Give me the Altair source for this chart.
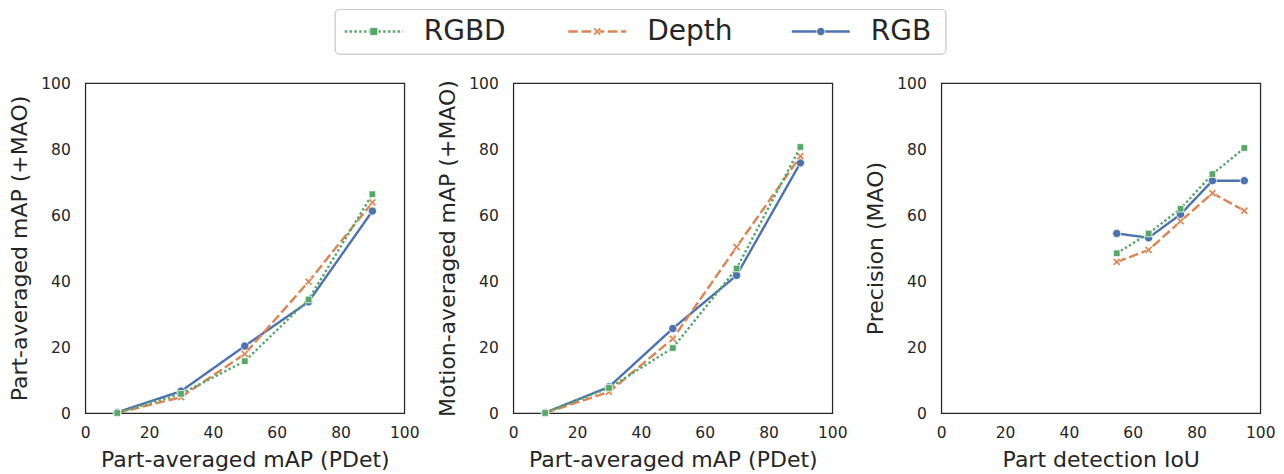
import altair as alt
import pandas as pd

# ---- data -------------------------------------------------------------
series = ["RGB", "Depth", "RGBD"]          # drawing order (RGBD on top)
legend_order = ["RGBD", "Depth", "RGB"]    # legend order
legend_index = [0, 1, 2]

x_pdet = [10, 30, 50, 70, 90]
x_iou = [55, 65, 75, 85, 95]

p1_rgb = [0.2, 6.6, 20.3, 33.7, 61.2]
p1_depth = [0.0, 4.8, 17.9, 39.8, 63.8]
p1_rgbd = [0.0, 5.8, 15.7, 34.4, 66.3]

p2_rgb = [0.1, 7.9, 25.6, 41.7, 75.8]
p2_depth = [0.0, 6.4, 22.5, 50.3, 77.8]
p2_rgbd = [0.0, 7.6, 19.7, 43.8, 80.6]

p3_rgb = [54.4, 53.1, 60.2, 70.4, 70.4]
p3_depth = [45.8, 49.4, 58.1, 66.6, 61.3]
p3_rgbd = [48.4, 54.4, 61.9, 72.4, 80.3]

tick_values = [0, 20, 40, 60, 80, 100]

x_titles = ["Part-averaged mAP (PDet)", "Part-averaged mAP (PDet)", "Part detection IoU"]
y_titles = ["Part-averaged mAP (+MAO)", "Motion-averaged mAP (+MAO)", "Precision (MAO)"]

# ---- styles -----------------------------------------------------------
FONT = "DejaVu Sans"
TXT = "#262626"
XPATH = "M-1,-0.6L-0.6,-1L0,-0.4L0.6,-1L1,-0.6L0.4,0L1,0.6L0.6,1L0,0.4L-0.6,1L-1,0.6L-0.4,0Z"
colors = {"RGB": "#4C72B0", "Depth": "#DD8452", "RGBD": "#55A868"}
dashes = {"RGB": [1, 0], "Depth": [9.6, 3.6], "RGBD": [2.4, 2.4]}
shapes = {"RGB": "circle", "Depth": XPATH, "RGBD": "square"}
sizes = {"RGB": 68, "Depth": 62, "RGBD": 44}
LW = 2.4


def panel(xs, vals, xtitle, ytitle):
    rows = []
    for s in series:
        for xv, yv in zip(xs, vals[s]):
            rows.append({"x": xv, "y": yv, "series": s})
    df = pd.DataFrame(rows)
    xenc = alt.X("x:Q", scale=alt.Scale(domain=[0, 100], nice=False),
                 axis=alt.Axis(values=tick_values, title=xtitle))
    yenc = alt.Y("y:Q", scale=alt.Scale(domain=[0, 100], nice=False),
                 axis=alt.Axis(values=tick_values, title=ytitle))
    layers = []
    for s in series:
        base = alt.Chart().transform_filter(alt.datum.series == s)
        layers.append(base.mark_line(color=colors[s], strokeDash=dashes[s],
                                     strokeWidth=LW).encode(x=xenc, y=yenc))
        layers.append(base.mark_point(shape=shapes[s], size=sizes[s], filled=True,
                                      color=colors[s], stroke="white",
                                      strokeWidth=0.75, opacity=1).encode(x=xenc, y=yenc))
    return alt.layer(*layers, data=df).properties(
        width=319, height=330,
        view=alt.ViewBackground(stroke=TXT, strokeWidth=1.25))


p1 = panel(x_pdet, {"RGB": p1_rgb, "Depth": p1_depth, "RGBD": p1_rgbd}, x_titles[0], y_titles[0])
p2 = panel(x_pdet, {"RGB": p2_rgb, "Depth": p2_depth, "RGBD": p2_rgbd}, x_titles[1], y_titles[1])
p3 = panel(x_iou, {"RGB": p3_rgb, "Depth": p3_depth, "RGBD": p3_rgbd}, x_titles[2], y_titles[2])

# ---- legend -----------------------------------------------------------
leg_df = pd.DataFrame({"series": legend_order, "idx": legend_index})
LEG_W = 691
BOX_W = 611
LEG_H = 45
lx = alt.X("idx:Q", scale=alt.Scale(domain=[-0.1745, 2.9172], nice=False, zero=False), axis=None)
c_enc = alt.Color("series:N", scale=alt.Scale(domain=series, range=[colors[s] for s in series]), legend=None)
ly = alt.value(LEG_H / 2)

leg_box = alt.Chart().mark_rect(fill="white", stroke="#cccccc", strokeWidth=1, cornerRadius=4).encode(
    x=alt.value(0.5), x2=alt.value(BOX_W), y=alt.value(0.5), y2=alt.value(LEG_H))
leg_rule = alt.Chart().mark_rule(strokeWidth=LW, xOffset=-29, x2Offset=29).encode(
    x=lx, x2=alt.X2("idx"), y=ly, color=c_enc,
    strokeDash=alt.StrokeDash("series:N", scale=alt.Scale(domain=series, range=[dashes[s] for s in series]), legend=None))
leg_pt = alt.Chart().mark_point(filled=True, stroke="white", strokeWidth=0.75, opacity=1).encode(
    x=lx, y=ly, color=c_enc,
    shape=alt.Shape("series:N", scale=alt.Scale(domain=series, range=[shapes[s] for s in series]), legend=None),
    size=alt.Size("series:N", scale=alt.Scale(domain=series, range=[sizes[s] for s in series]), legend=None))
leg_txt = alt.Chart().mark_text(align="left", baseline="middle", dx=50, fontSize=28,
                                font=FONT, color=TXT).encode(x=lx, y=ly, text="series:N")
legend = alt.layer(leg_box, leg_rule, leg_pt, leg_txt, data=leg_df).properties(
    width=LEG_W, height=LEG_H,
    view=alt.ViewBackground(stroke="transparent"))

row = alt.hconcat(p1, p2, p3, spacing=109, bounds="flush")

chart = alt.vconcat(legend, row, spacing=20, center=True).properties(
    padding={"left": 0, "top": 0, "right": 0, "bottom": 0}
).configure_axis(
    domain=False, ticks=False, grid=False, labelFlush=False,
    labelFont=FONT, labelFontSize=15.5, labelColor=TXT,
    titleFont=FONT, titleFontSize=22, titleFontWeight="normal", titleColor=TXT,
).configure_axisY(titlePadding=9, labelPadding=15).configure_axisX(titlePadding=9, labelPadding=12)

chart.save("out.html", embed_options={"renderer": "svg", "actions": False})
